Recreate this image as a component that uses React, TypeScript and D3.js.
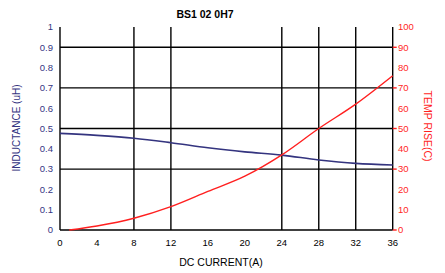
import { useEffect, useRef } from "react";
import * as d3 from "d3";

const title = "BS1 02 0H7";
const xTicks = [0, 4, 8, 12, 16, 20, 24, 28, 32, 36];
const xGrid = [8, 12, 24, 28, 32, 36];
const leftTicks = [0, 0.1, 0.2, 0.3, 0.4, 0.5, 0.6, 0.7, 0.8, 0.9, 1];
const yGrid = [0.3, 0.5, 0.7, 0.9];
const rightTicks = [0, 10, 20, 30, 40, 50, 60, 70, 80, 90, 100];
const rightMarks = [0, 30, 50, 70, 90];

const indCurrent = [0, 4, 8, 12, 16, 20, 24, 28, 32, 36];
const inductance = [0.476, 0.466, 0.452, 0.43, 0.405, 0.385, 0.369, 0.345, 0.328, 0.32];
const tempCurrent = [1, 4, 8, 12, 16, 20, 24, 28, 32, 36];
const tempRise = [0, 2, 5.8, 11.5, 19, 26.5, 37, 50, 62, 76];

const BLUE = "#34347f";
const RED = "#ff1f1f";
const FONT = "'Liberation Sans', Arial, sans-serif";

export default function App() {
  const svgRef = useRef<SVGSVGElement>(null);

  useEffect(() => {
    const el = svgRef.current;
    if (!el) return;
    d3.select(el).selectAll("*").remove();
    const svg = d3.select(el);

    const x = d3.scaleLinear().domain([0, 36]).range([60, 392.7]);
    const yL = d3.scaleLinear().domain([0, 1]).range([230, 27]);
    const yR = d3.scaleLinear().domain([0, 100]).range([230, 27]);

    // grid
    svg.selectAll(".hg").data(yGrid).enter().append("line")
      .attr("x1", x(0)).attr("x2", x(36))
      .attr("y1", (d) => yL(d)).attr("y2", (d) => yL(d))
      .attr("stroke", "#000").attr("stroke-width", 1.4);
    svg.selectAll(".vg").data(xGrid).enter().append("line")
      .attr("x1", (d) => x(d)).attr("x2", (d) => x(d))
      .attr("y1", yL(0)).attr("y2", yL(1))
      .attr("stroke", "#000").attr("stroke-width", 1.4);

    // axes
    svg.append("line").attr("x1", x(0)).attr("x2", x(0)).attr("y1", yL(0)).attr("y2", yL(1))
      .attr("stroke", "#000").attr("stroke-width", 1.4);
    svg.append("line").attr("x1", x(0)).attr("x2", x(36)).attr("y1", yL(0)).attr("y2", yL(0))
      .attr("stroke", "#000").attr("stroke-width", 1.4);

    svg.selectAll(".rm").data(rightMarks).enter().append("line")
      .attr("x1", x(36)).attr("x2", x(36) + 4)
      .attr("y1", (d) => yR(d)).attr("y2", (d) => yR(d))
      .attr("stroke", RED).attr("stroke-width", 1.4);

    // tick labels
    svg.selectAll(".lt").data(leftTicks).enter().append("text")
      .attr("x", 53).attr("y", (d) => yL(d)).attr("dy", "0.35em")
      .attr("text-anchor", "end").attr("font-size", 9.5).attr("font-family", FONT)
      .attr("fill", BLUE).text((d) => String(d));
    svg.selectAll(".rt").data(rightTicks).enter().append("text")
      .attr("x", 398).attr("y", (d) => yR(d)).attr("dy", "0.35em")
      .attr("text-anchor", "start").attr("font-size", 9.5).attr("font-family", FONT)
      .attr("fill", RED).text((d) => String(d));
    svg.selectAll(".xt").data(xTicks).enter().append("text")
      .attr("x", (d) => x(d)).attr("y", 243).attr("dy", "0.35em")
      .attr("text-anchor", "middle").attr("font-size", 9.5).attr("font-family", FONT)
      .attr("fill", "#000").text((d) => String(d));

    // axis titles
    svg.append("text").attr("transform", "translate(16,128) rotate(-90)")
      .attr("text-anchor", "middle").attr("dy", "0.35em").attr("font-size", 10)
      .attr("font-family", FONT).attr("fill", BLUE).text("INDUCTANCE (uH)");
    svg.append("text").attr("transform", "translate(428,126) rotate(90)")
      .attr("text-anchor", "middle").attr("dy", "0.35em").attr("font-size", 10.5)
      .attr("font-family", FONT).attr("fill", RED).text("TEMP RISE(C)");
    svg.append("text").attr("x", 221).attr("y", 262).attr("dy", "0.35em")
      .attr("text-anchor", "middle").attr("font-size", 10.5).attr("font-family", FONT)
      .attr("fill", "#000").text("DC CURRENT(A)");
    svg.append("text").attr("x", 205).attr("y", 14).attr("dy", "0.35em")
      .attr("text-anchor", "middle").attr("font-size", 10.5).attr("font-weight", "bold")
      .attr("font-family", FONT).attr("fill", "#000").text(title);

    // curves
    const indLine = d3.line<number>()
      .x((_, i) => x(indCurrent[i])).y((d) => yL(d)).curve(d3.curveMonotoneX);
    svg.append("path").datum(inductance).attr("d", indLine)
      .attr("fill", "none").attr("stroke", BLUE).attr("stroke-width", 1.6);

    const tempLine = d3.line<number>()
      .x((_, i) => x(tempCurrent[i])).y((d) => yR(d)).curve(d3.curveMonotoneX);
    svg.append("path").datum(tempRise).attr("d", tempLine)
      .attr("fill", "none").attr("stroke", RED).attr("stroke-width", 1.4);
  }, []);

  return (
    <svg
      ref={svgRef}
      width={445}
      height={273}
      style={{ position: "absolute", left: 0, top: 0, background: "#fff" }}
    />
  );
}
